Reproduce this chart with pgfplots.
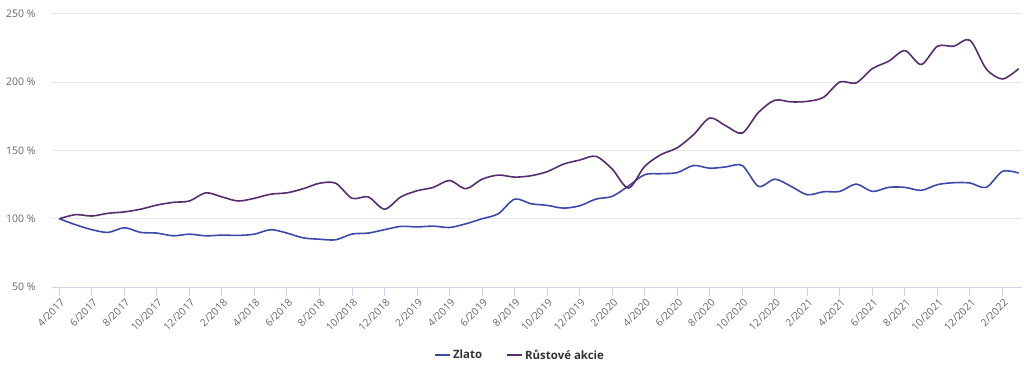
\documentclass[border=0pt]{standalone}
\usepackage{fontspec}
\setmainfont{Open Sans}
\usepackage{pgfplots}
\pgfplotsset{compat=1.18}
\definecolor{zlato}{RGB}{59,74,168}
\definecolor{akcie}{RGB}{88,44,110}
\definecolor{gridc}{RGB}{230,230,230}
\definecolor{axisc}{RGB}{204,214,235}
\definecolor{labc}{RGB}{102,102,102}
\definecolor{legc}{RGB}{51,51,51}
\begin{document}
\begin{tikzpicture}
\useasboundingbox (0,0) rectangle (1024bp,382bp);
\begin{axis}[
  at={(52bp,95bp)}, anchor=south west,
  scale only axis, width=970bp, height=273bp,
  xmin=-0.45, xmax=59.2, ymin=50, ymax=250,
  axis x line*=bottom, axis y line*=left,
  x axis line style={draw=axisc, line width=1bp},
  y axis line style={draw=none},
  ytick={50,100,150,200,250},
  yticklabels={50 \%,100 \%,150 \%,200 \%,250 \%},
  ytick style={draw=none},
  ymajorgrids, grid style={draw=gridc, line width=1bp},
  xtick={0,2,...,58},
  xticklabels={4/2017,6/2017,8/2017,10/2017,12/2017,2/2018,4/2018,6/2018,8/2018,10/2018,12/2018,2/2019,4/2019,6/2019,8/2019,10/2019,12/2019,2/2020,4/2020,6/2020,8/2020,10/2020,12/2020,2/2021,4/2021,6/2021,8/2021,10/2021,12/2021,2/2022},
  xtick style={draw=axisc, line width=1bp},
  tick align=outside, major tick length=9bp,
  xticklabel style={rotate=45, anchor=north east, font=\fontsize{10.3}{12}\selectfont, text=labc, inner sep=1bp, yshift=-1bp},
  yticklabel style={font=\fontsize{10.5}{12}\selectfont, text=labc, xshift=-4bp},
  legend style={at={(0.4825,-0.249)}, anchor=center, draw=none, fill=none,
    legend columns=2, font=\bfseries\fontsize{11.5}{13}\selectfont, text=legc,
    /tikz/every even column/.append style={column sep=22bp}},
  legend cell align=left,
  legend image code/.code={\draw[#1, line width=2bp] (0bp,0bp) -- (15bp,0bp);},
  every axis plot/.append style={line width=1.6bp, smooth, tension=0.5, mark=none},
]
\addplot[color=zlato] coordinates {
(0,100)(1,95.6)(2,92)(3,90)(4,93.4)(5,90)(6,89.5)(7,87.5)(8,88.7)(9,87.5)
(10,88)(11,87.8)(12,88.7)(13,92)(14,89.5)(15,86)(16,85)(17,84.6)(18,88.8)(19,89.5)
(20,92)(21,94.4)(22,94)(23,94.6)(24,93.6)(25,96.3)(26,100)(27,103.7)(28,114.4)(29,111)
(30,109.8)(31,107.8)(32,109.5)(33,114.4)(34,116.4)(35,124)(36,132.3)(37,133)(38,133.8)(39,139)
(40,137)(41,138)(42,139)(43,123.7)(44,129)(45,123.7)(46,117.6)(47,119.8)(48,120)(49,125.4)
(50,120)(51,123)(52,123)(53,120.8)(54,125)(55,126.4)(56,126.2)(57,123)(58,134.7)(59,133.5)
};
\addlegendentry{Zlato}
\addplot[color=akcie] coordinates {
(0,100)(1,103)(2,102)(3,104)(4,105)(5,107)(6,110)(7,112)(8,113)(9,119)
(10,116)(11,113)(12,115)(13,118)(14,119)(15,122)(16,126)(17,126)(18,115)(19,116)
(20,107)(21,116)(22,120.5)(23,123)(24,128)(25,122)(26,129)(27,132)(28,130.5)(29,131.5)
(30,134.5)(31,140)(32,143)(33,145.7)(34,136.4)(35,122.5)(36,138.4)(37,147)(38,152)(39,161.6)
(40,173.8)(41,168)(42,162.8)(43,178)(44,186.8)(45,185.6)(46,186)(47,189)(48,200.2)(49,199.5)
(50,210)(51,215.4)(52,223.2)(53,213)(54,226.4)(55,226.4)(56,230.8)(57,209.8)(58,202.4)(59,210)
};
\addlegendentry{Růstové akcie}
\end{axis}
\end{tikzpicture}
\end{document}
